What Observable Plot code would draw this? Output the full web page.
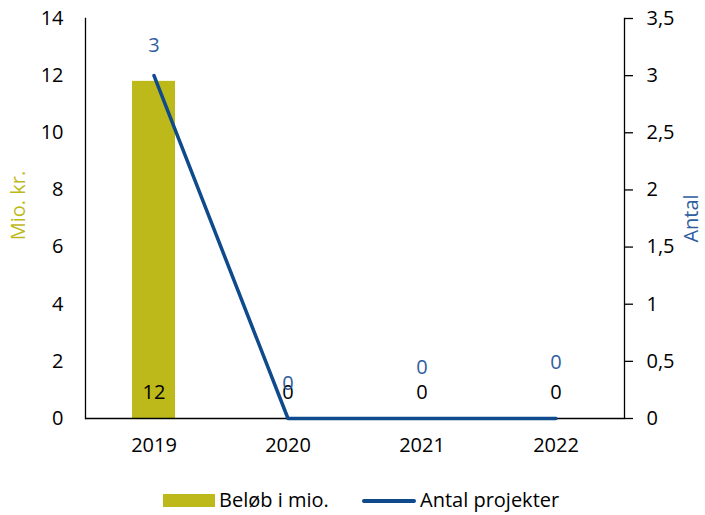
<!DOCTYPE html>
<html>
<head>
<meta charset="utf-8">
<script src="https://cdn.jsdelivr.net/npm/d3@7"></script>
<script src="https://cdn.jsdelivr.net/npm/@observablehq/plot@0.6"></script>
<style>
  html, body { margin: 0; padding: 0; background: #fff; }
  body { width: 705px; height: 515px; overflow: hidden; font-family: "Open Sans", sans-serif; }
  #legend { position: relative; height: 45px; font-size: 20px; color: #000; }
  #legend .sw1 { position: absolute; left: 163px; top: 24px; width: 52px; height: 13px; background: #BDB91A; }
  #legend .t1 { position: absolute; left: 219px; top: 16px; line-height: 27px; }
  #legend .sw2 { position: absolute; left: 362px; top: 29px; width: 54px; height: 3.5px; background: #0E4A8C; border-radius: 2px; }
  #legend .t2 { position: absolute; left: 420px; top: 16px; line-height: 27px; }
</style>
</head>
<body>
<div id="chart"></div>
<div id="legend">
  <span class="sw1"></span><span class="t1">Beløb i mio.</span>
  <span class="sw2"></span><span class="t2">Antal projekter</span>
</div>
<script>
const years = ["2019", "2020", "2021", "2022"];
const amounts = [11.8, 0, 0, 0];          // Beløb i mio. (left axis)
const amountLabels = ["12", "0", "0", "0"];
const projects = [3, 0, 0, 0];            // Antal projekter (right axis)
const projectLabels = ["3", "0", "0", "0"];
const leftTicks = [0, 2, 4, 6, 8, 10, 12, 14];
const rightTicks = [0, 0.5, 1, 1.5, 2, 2.5, 3, 3.5];

const olive = "#BDB91A";
const blue = "#0E4A8C";
const labelBlue = "#2F5E9E";
const k = 14 / 3.5; // right-axis to left-axis factor

const data = years.map((year, i) => ({
  year, amount: amounts[i], amountLabel: amountLabels[i],
  projects: projects[i], projectLabel: projectLabels[i]
}));

// vertical pixel offsets for the project labels (as placed in the original)
const projLabelDy = [-30, -35, -51, -56];

const fs = 20;
const plot = Plot.plot({
  width: 705,
  height: 470,
  marginTop: 18,
  marginBottom: 52,
  marginLeft: 85,
  marginRight: 81,
  style: { fontFamily: "Open Sans", fontSize: fs + "px", color: "#000", background: "#fff", overflow: "visible" },
  x: { type: "band", domain: years, paddingInner: 0.68, paddingOuter: 0.34, label: null },
  y: { domain: [0, 14], label: null },
  marks: [
    Plot.barY(data, { x: "year", y: "amount", fill: olive }),
    Plot.ruleY([0], { stroke: "#000", strokeWidth: 1.3 }),
    Plot.frame({ anchor: "left", stroke: "#000", strokeWidth: 1.3 }),
    Plot.frame({ anchor: "right", stroke: "#000", strokeWidth: 1.3 }),
    Plot.axisY({ anchor: "left", ticks: leftTicks, tickSize: 0, tickPadding: 22, label: null, fontSize: fs }),
    Plot.axisY({ anchor: "right", ticks: rightTicks.map(v => v * k), tickSize: 8, tickPadding: 14,
      tickFormat: v => String(v / k).replace(".", ","), label: null, fontSize: fs, strokeWidth: 1.3 }),
    Plot.axisX({ tickSize: 0, tickPadding: 19, label: null, fontSize: fs }),
    Plot.line(data, { x: "year", y: d => d.projects * k, stroke: blue, strokeWidth: 3.5 }),
    Plot.text(data, { x: "year", y: 0, text: "amountLabel", dy: -26, fill: "#000", fontSize: fs }),
    ...data.map((d, i) => Plot.text([d], { x: "year", y: e => e.projects * k, text: "projectLabel",
      dy: projLabelDy[i], fill: labelBlue, fontSize: fs })),
    Plot.text(["Mio. kr."], { frameAnchor: "left", textAnchor: "middle", dx: -67, dy: -13, rotate: -90, fill: olive, fontSize: fs }),
    Plot.text(["Antal"], { frameAnchor: "right", textAnchor: "middle", dx: 67, rotate: -90, fill: labelBlue, fontSize: fs })
  ]
});
document.getElementById("chart").appendChild(plot);
</script>
</body>
</html>
